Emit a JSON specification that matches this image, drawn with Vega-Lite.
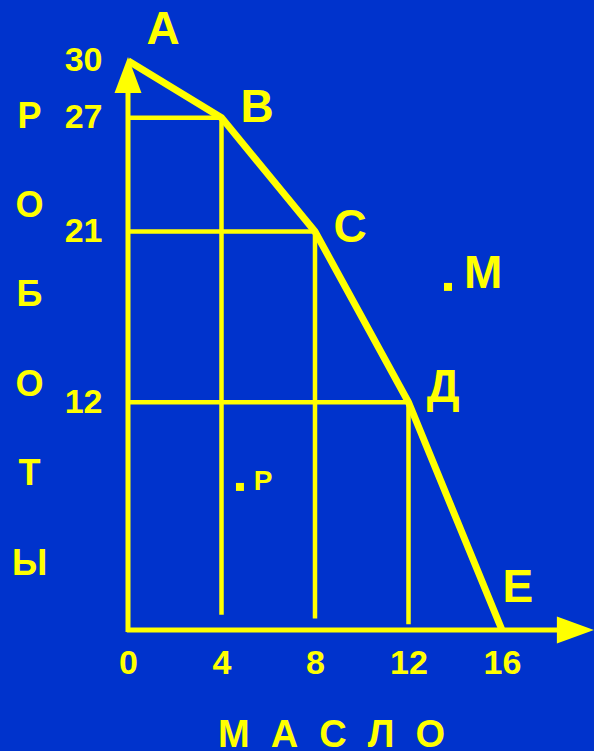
{
  "$schema": "https://vega.github.io/schema/vega-lite/v6.json",
  "autosize": "none",
  "padding": {"left": 128, "top": 0, "right": 0, "bottom": 121},
  "width": 466,
  "height": 630,
  "background": "#0033cc",
  "config": {
    "view": {"stroke": null},
    "font": "Liberation Sans",
    "text": {"font": "Liberation Sans", "fontWeight": "bold", "color": "#ffff00"}
  },
  "encoding": {
    "x": {
      "field": "x", "type": "quantitative",
      "scale": {"domain": [0, 19.936], "nice": false, "zero": false},
      "axis": {
        "values": [0, 4, 8, 12, 16], "grid": false, "domain": false, "ticks": false, "tickSize": 0,
        "labelFont": "Liberation Sans", "labelFontWeight": "bold", "labelFontSize": 34, "labelColor": "#ffff00",
        "labelBaseline": "middle", "labelPadding": 33, "labelFlush": false, "labelOverlap": false,
        "title": "М\u00a0\u00a0А\u00a0\u00a0С\u00a0\u00a0Л\u00a0\u00a0О", "titleFont": "Liberation Sans", "titleFontWeight": "bold", "titleFontSize": 38,
        "titleColor": "#ffff00", "titleX": 203, "titleY": 105, "titleAlign": "center", "titleBaseline": "middle"
      }
    },
    "y": {
      "field": "y", "type": "quantitative",
      "scale": {"domain": [0, 33.2], "nice": false, "zero": false},
      "axis": {
        "values": [12, 21, 27, 30], "grid": false, "domain": false, "ticks": false, "tickSize": 0,
        "labelFont": "Liberation Sans", "labelFontWeight": "bold", "labelFontSize": 34, "labelColor": "#ffff00",
        "labelBaseline": "middle", "labelAlign": "right", "labelPadding": 26, "labelFlush": false, "labelOverlap": false,
        "title": ["Р", "О", "Б", "О", "Т", "Ы"], "titleFont": "Liberation Sans", "titleFontWeight": "bold", "titleFontSize": 36,
        "titleColor": "#ffff00", "titleAngle": 0, "titleX": -99, "titleY": 116, "titleAlign": "center",
        "titleBaseline": "middle", "titleLineHeight": 89.4
      }
    }
  },
  "layer": [
    {
      "data": {"values": [
        {"x": 0, "x2": 4, "y": 27, "y2": 27},
        {"x": 0, "x2": 8, "y": 21, "y2": 21},
        {"x": 0, "x2": 12, "y": 12, "y2": 12},
        {"x": 4, "x2": 4, "y": 27, "y2": 0.8},
        {"x": 8, "x2": 8, "y": 21, "y2": 0.6},
        {"x": 12, "x2": 12, "y": 12, "y2": 0.3}
      ]},
      "mark": {"type": "rule", "color": "#ffff00", "strokeWidth": 4.5},
      "encoding": {"x2": {"field": "x2"}, "y2": {"field": "y2"}}
    },
    {
      "data": {"values": [
        {"x": 0, "x2": 0, "y": -0.1, "y2": 29},
        {"x": -0.05, "x2": 19, "y": 0, "y2": 0}
      ]},
      "mark": {"type": "rule", "color": "#ffff00", "strokeWidth": 5},
      "encoding": {"x2": {"field": "x2"}, "y2": {"field": "y2"}}
    },
    {
      "data": {"values": [
        {"x": 0, "y": 30},
        {"x": 4, "y": 27},
        {"x": 8, "y": 21},
        {"x": 12, "y": 12},
        {"x": 16, "y": 0}
      ]},
      "mark": {"type": "line", "color": "#ffff00", "strokeWidth": 7, "strokeJoin": "miter", "strokeCap": "butt"},
      "encoding": {"order": {"field": "x"}}
    },
    {
      "data": {"values": [{"x": 0, "y": 29.25}]},
      "mark": {"type": "point", "shape": "M0,-1L0.75,1L-0.75,1Z", "size": 1296, "filled": true, "color": "#ffff00", "opacity": 1, "strokeWidth": 0}
    },
    {
      "data": {"values": [{"x": 19.14, "y": 0}]},
      "mark": {"type": "point", "shape": "M-1,-0.73L1,0L-1,0.73Z", "size": 1369, "filled": true, "color": "#ffff00", "opacity": 1, "strokeWidth": 0}
    },
    {
      "data": {"values": [{"x": 13.69, "y": 18.08}, {"x": 4.79, "y": 7.54}]},
      "mark": {"type": "square", "size": 64, "filled": true, "color": "#ffff00", "opacity": 1}
    },
    {
      "data": {"values": [
        {"x": 1.5, "y": 31.62, "label": "А"},
        {"x": 5.52, "y": 27.51, "label": "В"},
        {"x": 9.5, "y": 21.18, "label": "С"},
        {"x": 13.48, "y": 12.75, "label": "Д"},
        {"x": 16.68, "y": 2.21, "label": "Е"},
        {"x": 15.19, "y": 18.76, "label": "М"}
      ]},
      "mark": {"type": "text", "fontSize": 46, "fontWeight": "bold", "font": "Liberation Sans", "align": "center", "baseline": "middle", "color": "#ffff00"},
      "encoding": {"text": {"field": "label"}}
    },
    {
      "data": {"values": [{"x": 5.78, "y": 7.8, "label": "Р"}]},
      "mark": {"type": "text", "fontSize": 28, "fontWeight": "bold", "font": "Liberation Sans", "align": "center", "baseline": "middle", "color": "#ffff00"},
      "encoding": {"text": {"field": "label"}}
    }
  ]
}
